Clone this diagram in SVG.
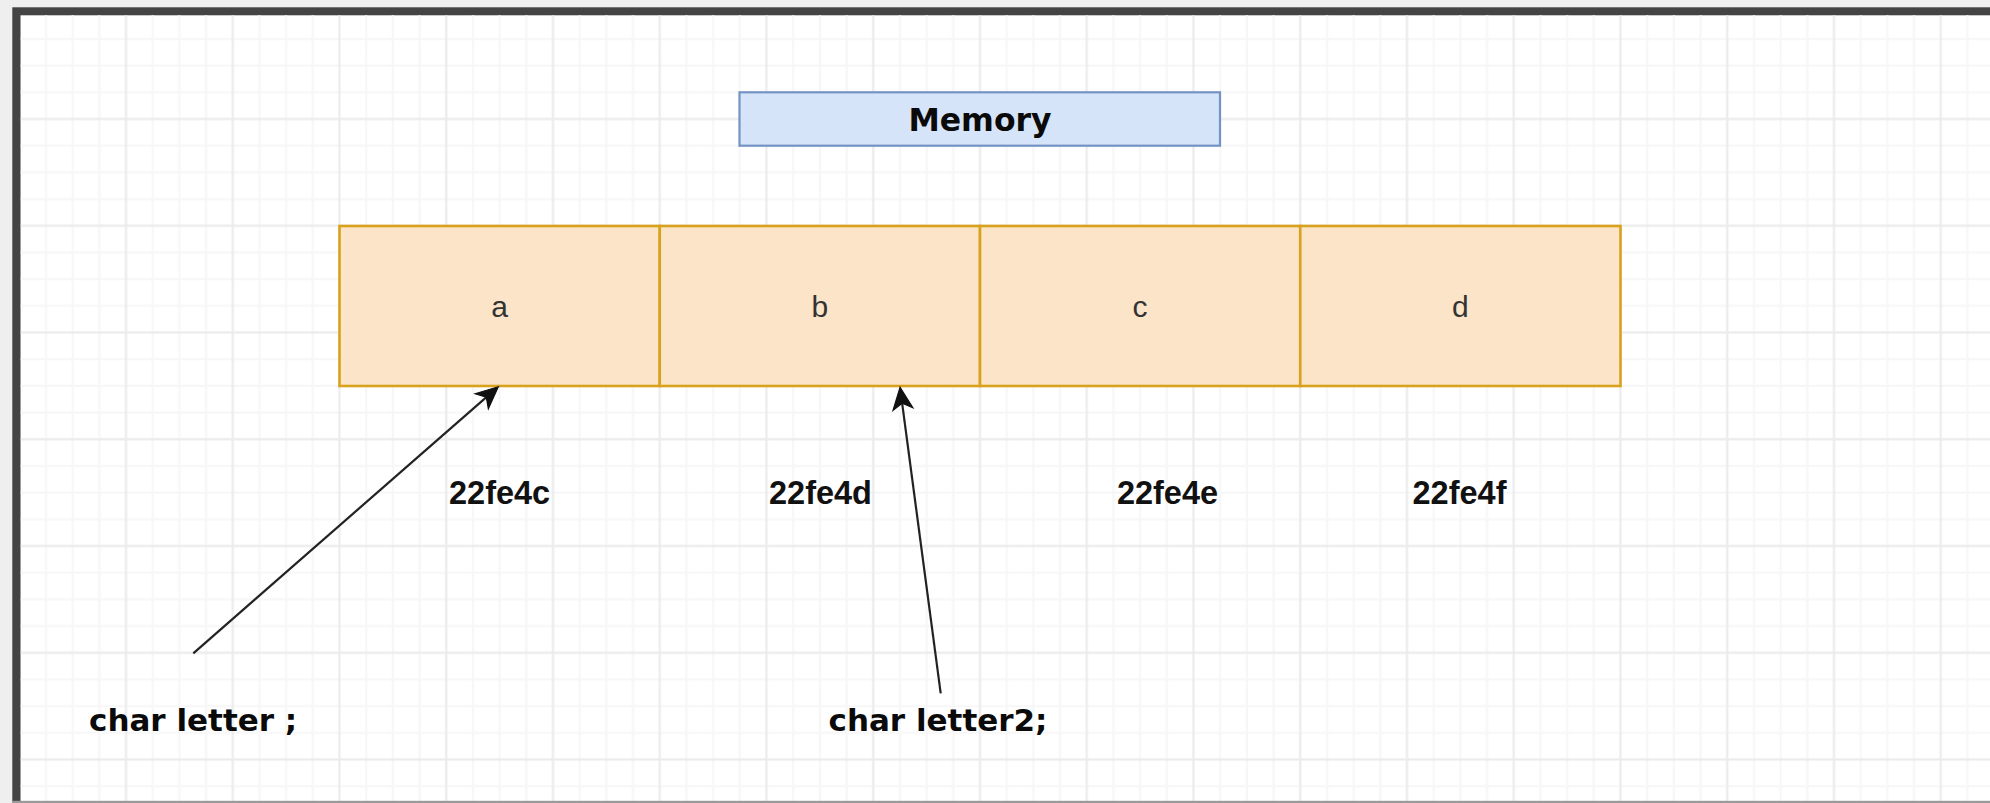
<svg xmlns="http://www.w3.org/2000/svg" width="1990" height="803" viewBox="0 0 1990 803">
  <style>
    .cell { fill: #fbe4c8; stroke: #d9a21c; stroke-width: 2.6; }
    .title { fill: #d5e4f9; stroke: #7393c4; stroke-width: 2.2; }
    .label-bold { font-family: "DejaVu Sans", Verdana, sans-serif; font-weight: bold; fill: #0a0a0a; }
    .value { font-family: "Liberation Sans", Arial, sans-serif; font-size: 30px; fill: #333; text-anchor: middle; }
    .addr { font-family: "Liberation Sans", Arial, sans-serif; font-weight: bold; font-size: 32.5px; fill: #111; text-anchor: middle; }
    .conn { fill: none; stroke: #222; stroke-width: 2.2; }
  </style>
  <defs>
    <!-- canvas grid: minor every 26.6875, major every 4 minor -->
    <pattern id="grid" patternUnits="userSpaceOnUse" x="5.91" y="-1.09" width="106.75" height="106.75">
      <g stroke="#f7f7f7" stroke-width="2.4">
        <line x1="40.03" y1="0" x2="40.03" y2="106.75"/>
        <line x1="66.72" y1="0" x2="66.72" y2="106.75"/>
        <line x1="93.41" y1="0" x2="93.41" y2="106.75"/>
        <line x1="0" y1="40.03" x2="106.75" y2="40.03"/>
        <line x1="0" y1="66.72" x2="106.75" y2="66.72"/>
        <line x1="0" y1="93.41" x2="106.75" y2="93.41"/>
      </g>
      <g stroke="#ebebeb" stroke-width="2.2">
        <line x1="13.34" y1="0" x2="13.34" y2="106.75"/>
        <line x1="0" y1="13.34" x2="106.75" y2="13.34"/>
      </g>
    </pattern>
    <marker id="arrow" viewBox="-36 -14 40 28" refX="-12" refY="0" markerWidth="40" markerHeight="28" markerUnits="userSpaceOnUse" orient="auto">
      <path d="M0,0 L-22,-10 L-16,0 L-22,10 Z" fill="#111" stroke="#111" stroke-width="1.2" stroke-linejoin="miter"/>
    </marker>
  </defs>

  <!-- window frame and canvas -->
  <rect x="0" y="0" width="1990" height="803" fill="#efefef"/>
  <rect x="12.3" y="7.3" width="1977.7" height="795" fill="#444"/>
  <rect x="20.6" y="15.3" width="1969.4" height="786" fill="#ffffff"/>
  <rect x="20.6" y="15.3" width="1969.4" height="786" fill="url(#grid)"/>
  <rect x="12.3" y="800.8" width="1977.7" height="2.2" fill="#9a9a9a"/>

  <!-- title -->
  <g id="memory">
    <rect class="title" x="739.5" y="92.3" width="480.5" height="53.4"/>
    <text class="label-bold" x="980" y="130.5" font-size="31.5" text-anchor="middle">Memory</text>
  </g>

  <!-- memory cells -->
  <g id="cell-a">
    <rect class="cell" x="339.5" y="226" width="320.25" height="160"/>
    <text class="value" x="499.6" y="317">a</text>
  </g>
  <g id="cell-b">
    <rect class="cell" x="659.75" y="226" width="320.25" height="160"/>
    <text class="value" x="819.9" y="317">b</text>
  </g>
  <g id="cell-c">
    <rect class="cell" x="980" y="226" width="320.25" height="160"/>
    <text class="value" x="1140.1" y="317">c</text>
  </g>
  <g id="cell-d">
    <rect class="cell" x="1300.25" y="226" width="320.25" height="160"/>
    <text class="value" x="1460.4" y="317">d</text>
  </g>

  <!-- addresses -->
  <g id="addr-a"><text class="addr" x="499.6" y="504">22fe4c</text></g>
  <g id="addr-b"><text class="addr" x="820.5" y="504">22fe4d</text></g>
  <g id="addr-c"><text class="addr" x="1167.5" y="504">22fe4e</text></g>
  <g id="addr-d"><text class="addr" x="1459.5" y="504">22fe4f</text></g>

  <!-- variables -->
  <g id="var-letter">
    <text class="label-bold" x="89" y="731" font-size="31">char letter ;</text>
  </g>
  <g id="var-letter2">
    <text class="label-bold" x="828.5" y="731" font-size="31">char letter2;</text>
  </g>

  <!-- connectors -->
  <g id="connectors">
    <path class="conn" d="M193.3,653.3 L489.3,394.6" marker-end="url(#arrow)"/>
    <path class="conn" d="M940.7,693.3 L901.6,399.2" marker-end="url(#arrow)"/>
  </g>
</svg>
